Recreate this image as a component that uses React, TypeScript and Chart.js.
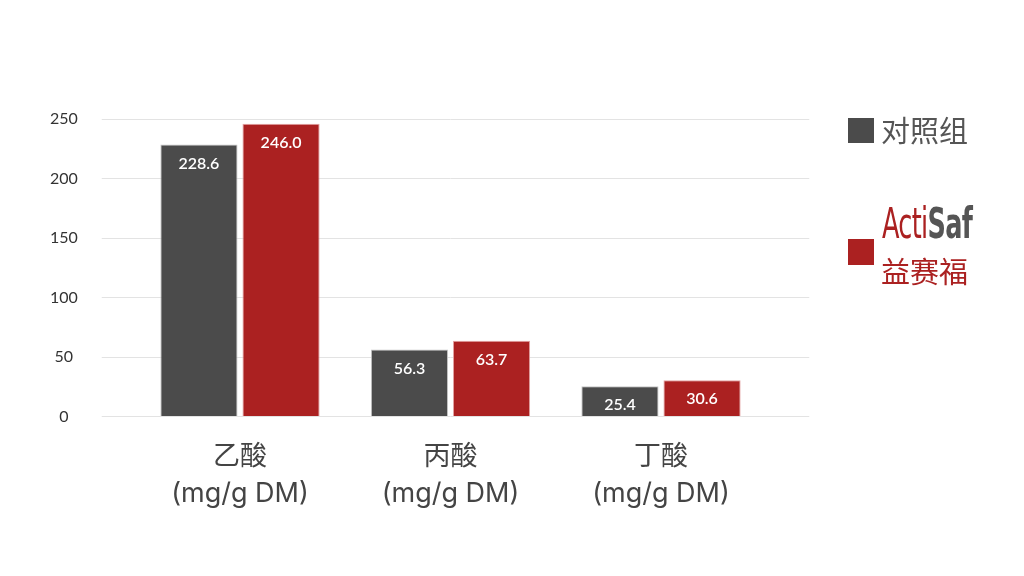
import { useEffect, useRef } from "react";
import { Chart, registerables } from "chart.js";
import type { Plugin } from "chart.js";

Chart.register(...registerables);

const categories = ["乙酸", "丙酸", "丁酸"];
const unit = "(mg/g DM)";
const controlValues = [228.6, 56.3, 25.4];
const actisafValues = [246.0, 63.7, 30.6];
const yMax = 250;
const yStep = 50;

const DARK = "#4b4b4b";
const RED = "#ab2121";
const FONT = "Lato, 'Noto Sans CJK SC', sans-serif";
const LABEL_FONT = "Inter, 'Noto Sans CJK SC', sans-serif";

// writes the value inside the top of each bar
const valueLabels: Plugin<"bar"> = {
  id: "valueLabels",
  afterDatasetsDraw(chart) {
    const { ctx } = chart;
    ctx.save();
    ctx.fillStyle = "#ffffff";
    ctx.font = `600 16px ${FONT}`;
    ctx.textAlign = "center";
    ctx.textBaseline = "middle";
    chart.data.datasets.forEach((ds, i) => {
      const meta = chart.getDatasetMeta(i);
      meta.data.forEach((el, j) => {
        const v = ds.data[j] as number;
        ctx.fillText(v.toFixed(1), el.x, el.y + 19);
      });
    });
    ctx.restore();
  },
};

export default function App() {
  const chartRef = useRef<HTMLCanvasElement>(null);
  const chartInstance = useRef<Chart | null>(null);

  useEffect(() => {
    if (!chartRef.current) return;
    chartInstance.current?.destroy();

    chartInstance.current = new Chart(chartRef.current, {
      type: "bar",
      data: {
        labels: categories.map((c) => [c, unit]),
        datasets: [
          {
            label: "对照组",
            data: controlValues,
            backgroundColor: DARK,
            borderColor: "#c4c4c4",
            borderWidth: 1,
            barPercentage: 0.94,
            categoryPercentage: 0.78,
          },
          {
            label: "ActiSaf 益赛福",
            data: actisafValues,
            backgroundColor: RED,
            borderColor: "#e3a3a3",
            borderWidth: 1,
            barPercentage: 0.94,
            categoryPercentage: 0.78,
          },
        ],
      },
      options: {
        animation: false,
        responsive: true,
        maintainAspectRatio: false,
        layout: { padding: { top: 119, bottom: 42, left: 49.75, right: 214.75 } },
        plugins: {
          legend: { display: false },
          tooltip: { enabled: false },
        },
        scales: {
          x: {
            grid: { display: false, drawTicks: false },
            border: { display: false },
            ticks: {
              padding: 22,
              color: "#444",
              font: { family: LABEL_FONT, size: 27, lineHeight: 1.36 },
            },
          },
          y: {
            min: 0,
            max: yMax,
            afterFit: (scale) => {
              scale.width = 85;
            },
            ticks: {
              stepSize: yStep,
              padding: 24,
              crossAlign: "center",
              color: "#333",
              font: { family: FONT, size: 16 },
            },
            grid: { color: "#e3e3e3", tickLength: 33, drawTicks: true },
            border: { display: false },
          },
          y2: {
            position: "right",
            min: 0,
            max: yMax,
            afterFit: (scale) => {
              scale.width = 43;
            },
            ticks: { stepSize: yStep, display: false },
            grid: { color: "#e3e3e3", tickLength: 43, drawTicks: true, drawOnChartArea: false },
            border: { display: false },
          },
        },
      },
      plugins: [valueLabels],
    });

    return () => {
      chartInstance.current?.destroy();
      chartInstance.current = null;
    };
  }, []);

  const square = (color: string, top: number): React.CSSProperties => ({
    position: "absolute",
    left: 848,
    top,
    width: 26,
    height: 25,
    background: color,
  });

  return (
    <div style={{ position: "fixed", left: 0, top: 0, width: 1024, height: 576, background: "#fff" }}>
      <canvas ref={chartRef} />
      <div style={square(DARK, 118)} />
      <div
        style={{
          position: "absolute",
          left: 881,
          top: 109,
          fontFamily: "'Noto Sans CJK SC', sans-serif",
          fontSize: 29,
          lineHeight: "40px",
          color: "#555",
          whiteSpace: "nowrap",
        }}
      >
        对照组
      </div>
      <div style={{ ...square(RED, 239), height: 26 }} />
      <div
        style={{
          position: "absolute",
          left: 882,
          top: 198,
          fontFamily: "'Liberation Sans Narrow', 'DejaVu Sans Condensed', sans-serif",
          fontSize: 43,
          lineHeight: "50px",
          letterSpacing: -1,
          whiteSpace: "nowrap",
          transform: "scaleX(0.66)",
          transformOrigin: "left top",
        }}
      >
        <span style={{ color: RED }}>Acti</span>
        <span style={{ color: "#555", fontWeight: 700 }}>Saf</span>
      </div>
      <div
        style={{
          position: "absolute",
          left: 881,
          top: 250,
          fontFamily: "'Noto Sans CJK SC', sans-serif",
          fontSize: 29,
          lineHeight: "40px",
          color: RED,
          whiteSpace: "nowrap",
        }}
      >
        益赛福
      </div>
    </div>
  );
}
